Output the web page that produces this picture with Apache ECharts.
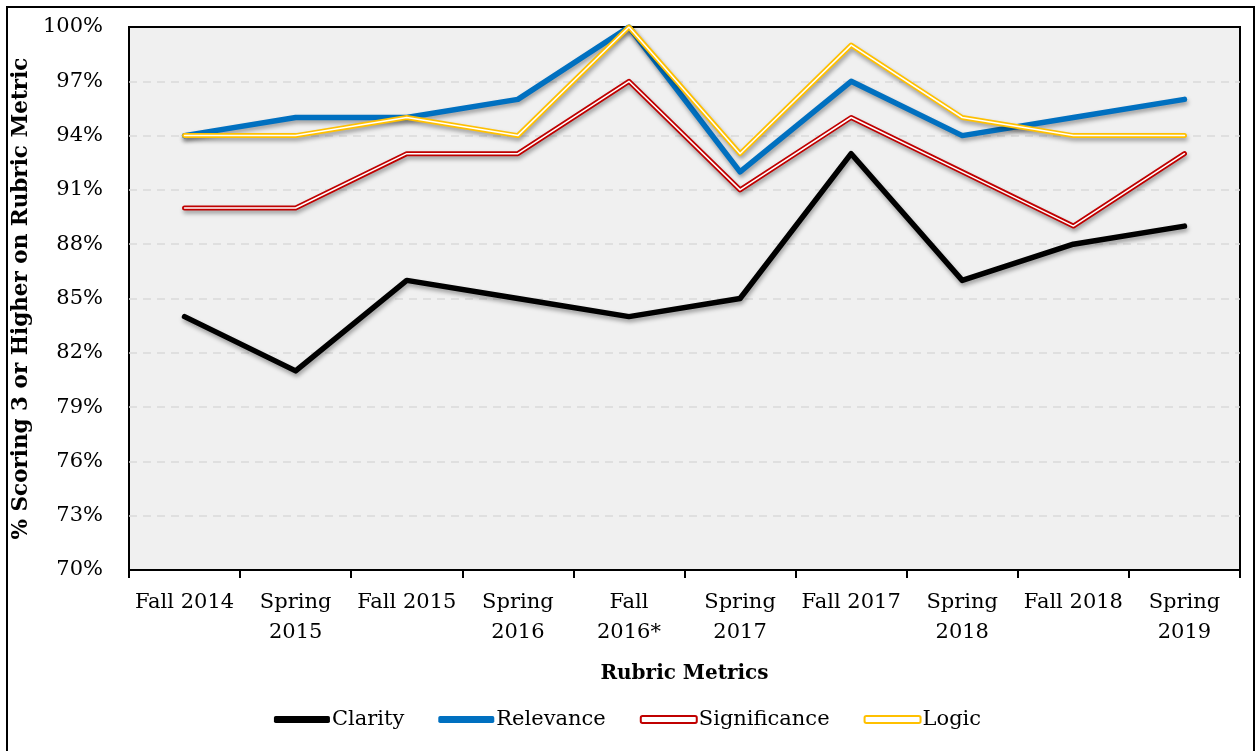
<!DOCTYPE html>
<html><head><meta charset="utf-8">
<script src="https://cdn.jsdelivr.net/npm/echarts@6/dist/echarts.min.js"></script>
<style>html,body{margin:0;padding:0;background:#fff}#c{width:1255px;height:751px}</style>
</head><body><div id="c"></div>
<script>
const categories = ["Fall 2014","Spring\n2015","Fall 2015","Spring\n2016","Fall\n2016*","Spring\n2017","Fall 2017","Spring\n2018","Fall 2018","Spring\n2019"];
const clarity      = [84, 81, 86, 85, 84, 85, 93, 86, 88, 89];
const relevance    = [94, 95, 95, 96, 100, 92, 97, 94, 95, 96];
const significance = [90, 90, 93, 93, 97, 91, 95, 92, 89, 93];
const logic        = [94, 94, 95, 94, 100, 93, 99, 95, 94, 94];

const FONT = 'DejaVu Serif';
const shadow = {shadowColor:'rgba(0,0,0,0.35)', shadowBlur:4, shadowOffsetX:1, shadowOffsetY:3};
function line(name, data, color, width, extra){
  return {type:'line', name, data, symbol:'none', z:3,
    lineStyle:Object.assign({color, width, join:'round', cap:'round'}, extra||{}), itemStyle:{color}};
}
const chart = echarts.init(document.getElementById('c'));
chart.setOption({
  animation:false,
  textStyle:{fontFamily:FONT},
  graphic:[{type:'rect', shape:{x:7,y:7,width:1247,height:770}, style:{fill:'none', stroke:'#000', lineWidth:2}, silent:true, z:100}],
  grid:{left:129, right:15, top:27, bottom:181, show:true, backgroundColor:'#f0f0f0', borderColor:'#000', borderWidth:2},
  xAxis:{type:'category', data:categories, boundaryGap:true,
    name:'Rubric Metrics', nameLocation:'middle', nameGap:94,
    nameTextStyle:{fontFamily:FONT, fontWeight:'bold', fontSize:20, color:'#000'},
    axisLine:{lineStyle:{color:'#000', width:2}},
    axisTick:{show:true, length:8, lineStyle:{color:'#000', width:2}},
    axisLabel:{fontFamily:FONT, fontSize:21, color:'#000', margin:18, lineHeight:30, interval:0}},
  yAxis:{type:'value', min:70, max:100, interval:3,
    name:'% Scoring 3 or Higher on Rubric Metric', nameLocation:'middle', nameGap:97,
    nameTextStyle:{fontFamily:FONT, fontWeight:'bold', fontSize:21.5, color:'#000'},
    axisLine:{show:false}, axisTick:{show:false},
    axisLabel:{fontFamily:FONT, fontSize:21, color:'#000', margin:26, formatter:'{value}%'},
    splitLine:{show:true, showMinLine:false, showMaxLine:false, lineStyle:{color:'#d9d9d9', width:1.5, type:[8,6]}}},
  legend:{top:704, left:'center', itemWidth:56, itemHeight:7, itemGap:34,
    textStyle:{fontFamily:FONT, fontSize:21, color:'#000', padding:[0,0,0,-3]},
    data:[
      {name:'Clarity', icon:'roundRect', itemStyle:{color:'#000'}},
      {name:'Relevance', icon:'roundRect', itemStyle:{color:'#0070c0'}},
      {name:'Significance', icon:'roundRect', itemStyle:{color:'#ffffff', borderColor:'#c00000', borderWidth:2}},
      {name:'Logic', icon:'roundRect', itemStyle:{color:'#ffffff', borderColor:'#ffc000', borderWidth:2}}
    ]},
  series:[
    line('Significance', significance, '#c00000', 5, shadow),
    line('Significance', significance, '#ffffff', 1.5),
    line('Clarity', clarity, '#000000', 5.5, shadow),
    line('Relevance', relevance, '#0070c0', 5.5, shadow),
    line('Logic', logic, '#ffc000', 5, shadow),
    line('Logic', logic, '#ffffff', 1.5)
  ]
});
</script></body></html>
